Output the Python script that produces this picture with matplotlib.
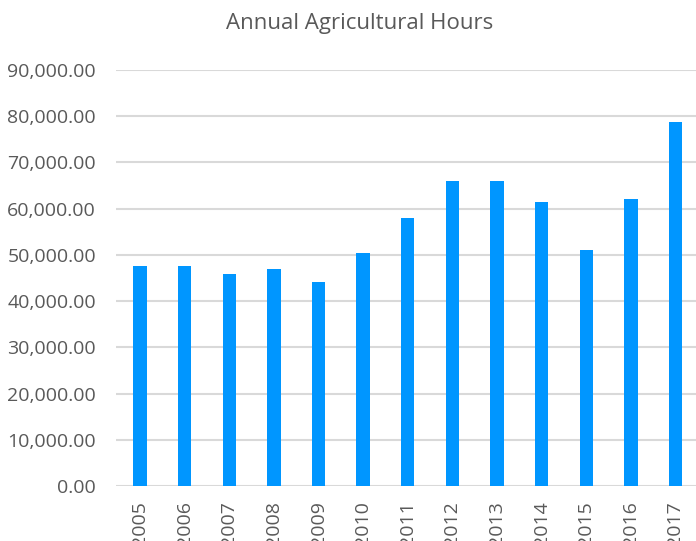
import matplotlib
matplotlib.use("Agg")
import matplotlib.pyplot as plt
from matplotlib.ticker import FuncFormatter

years = ["2005", "2006", "2007", "2008", "2009", "2010", "2011",
         "2012", "2013", "2014", "2015", "2016", "2017"]
hours = [47600, 47600, 45900, 47000, 44200, 50500, 57900,
         66000, 66000, 61400, 51100, 62000, 78800]
y_ticks = list(range(0, 90001, 10000))

plt.rcParams["font.family"] = ["Open Sans", "DejaVu Sans"]

fig = plt.figure(figsize=(6.96, 5.41), dpi=100)
ax = fig.add_axes([0.1667, 0.1017, 0.8333, 0.7689])

x = list(range(len(years)))
ax.bar(x, hours, width=0.30, color="#0096FF", zorder=3)

ax.set_ylim(0, 90000)
ax.set_xlim(-0.54, 12.46)
ax.set_yticks(y_ticks)
ax.yaxis.set_major_formatter(FuncFormatter(lambda v, _: f"{v:,.2f}"))
ax.set_xticks(x)
ax.set_xticklabels(years, rotation=90, va="top")

ax.grid(axis="y", color="#D9D9D9", linewidth=1.5, zorder=0)
for side in ["top", "right", "left", "bottom"]:
    ax.spines[side].set_visible(False)
ax.tick_params(axis="both", length=0, colors="#595959", labelsize=14)
ax.tick_params(axis="y", pad=14.5)
ax.tick_params(axis="x", pad=11)

fig.text(0.517, 0.957, "Annual Agricultural Hours", ha="center", va="center",
         fontsize=16, color="#595959")

fig.savefig("out.png", dpi=100)
